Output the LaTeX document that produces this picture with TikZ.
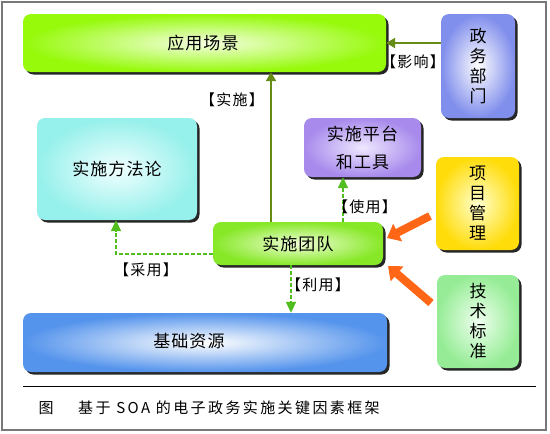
\documentclass[tikz,border=0pt]{standalone}
\usepackage{fontspec}
\newfontfamily\cjk{Noto Sans CJK SC}
\newfontfamily\cjkbox[LetterSpace=6]{Noto Sans CJK SC}
\newfontfamily\cjklbl[LetterSpace=8]{Noto Sans CJK SC}
\newfontfamily\cjkcap[LetterSpace=16]{Noto Sans CJK SC}
\usetikzlibrary{arrows.meta,shadows}
\definecolor{limeG}{RGB}{150,250,10}
\definecolor{limeI}{RGB}{245,255,225}
\definecolor{teamG}{RGB}{135,232,40}
\definecolor{teamI}{RGB}{240,255,215}
\definecolor{govB}{RGB}{128,142,236}
\definecolor{cyanM}{RGB}{150,240,235}
\definecolor{cyanI}{RGB}{240,255,255}
\definecolor{purpP}{RGB}{168,138,236}
\definecolor{purpI}{RGB}{238,232,255}
\definecolor{yelY}{RGB}{255,220,10}
\definecolor{yelI}{RGB}{255,255,205}
\definecolor{grnT}{RGB}{150,236,150}
\definecolor{grnI}{RGB}{238,255,238}
\definecolor{bluB}{RGB}{85,148,236}
\definecolor{oliveA}{RGB}{102,140,22}
\definecolor{dashA}{RGB}{80,190,30}
\definecolor{orangeA}{RGB}{255,102,22}
\definecolor{frameC}{RGB}{120,120,120}
\begin{document}
\begin{tikzpicture}[x=1pt,y=-1pt,
  box/.style={rounded corners=8pt, inner sep=0pt, align=center,
    font=\cjkbox\fontsize{17}{20}\selectfont,
    drop shadow={shadow xshift=2.5pt,shadow yshift=-2.5pt,opacity=1,fill=black!85}},
  lbl/.style={font=\cjklbl\fontsize{15}{16}\selectfont, inner sep=0pt},
  solidarrow/.style={draw=oliveA, line width=2.5pt, -{Triangle[length=9pt,width=10pt]}},
  dasharrow/.style={draw=dashA, line width=2pt, dash pattern=on 4pt off 2pt, -{Triangle[length=11pt,width=10pt]}},
  blockarrow/.style={draw=orangeA, line width=8pt, -{Triangle[length=12pt,width=19pt]}}]
\useasboundingbox (0,0) rectangle (550,434);
\fill[white] (0,0) rectangle (550,434);
\draw[frameC, line width=1.5pt] (2,2) rectangle (546,430);

% boxes
\node[box, inner color=limeI, outer color=limeG, minimum width=363pt, minimum height=58pt] (app) at (204.5,43) {};
\node[font=\cjkbox\fontsize{17}{20}\selectfont] (appT) at (203,43) {应用场景};
\node[box, inner color=white, outer color=govB, minimum width=74pt, minimum height=104pt] (gov) at (478,66) {政\\务\\部\\门};
\node[box, inner color=cyanI, outer color=cyanM, minimum width=160pt, minimum height=102pt] (meth) at (117,169) {实施方法论};
\node[box, inner color=purpI, outer color=purpP, minimum width=117pt, minimum height=59pt, font=\cjkbox\fontsize{17}{28}\selectfont] (plat) at (362.5,147.5) {实施平台\\和工具};
\node[box, inner color=yelI, outer color=yelY, minimum width=83pt, minimum height=93pt] (pm) at (477.5,203.5) {项\\目\\管\\理};
\node[box, inner color=teamI, outer color=teamG, minimum width=170pt, minimum height=43pt] (team) at (298,243.5) {实施团队};
\node[box, inner color=white, outer color=bluB, minimum width=364pt, minimum height=59pt] (base) at (205,342.5) {};
\node[font=\cjkbox\fontsize{17}{20}\selectfont] (baseT) at (189,341) {基础资源};
\node[box, inner color=grnI, outer color=grnT, minimum width=82pt, minimum height=93pt] (tech) at (478,321.5) {技\\术\\标\\准};

% solid olive arrows
\draw[solidarrow] (gov.west |- 0,43) -- (app.east |- 0,43);
\draw[solidarrow] (team.north -| 271,0) -- (app.south -| 271,0);

% dashed arrows
\draw[dasharrow] (team.north -| 343,0) -- (plat.south -| 343,0);
\draw[dasharrow] (team.south -| 291,0) -- (base.north -| 291,0);
\coordinate (bend) at (116,254);
\draw[dasharrow] (team.west |- 0,254) -- (bend) -- (meth.south -| bend);

% orange block arrows
\coordinate (pmTail) at (430,216);
\coordinate (pmTip) at (387,238);
\coordinate (tsTail) at (431,303);
\coordinate (tsTip) at (388,266);
\draw[blockarrow] (pmTail) -- (pmTip);
\draw[blockarrow] (tsTail) -- (tsTip);

% labels
\node[lbl] (lInf) at (413,62) {【影响】};
\node[lbl] (lImp) at (232,100) {【实施】};
\node[lbl] (lUse) at (365,207) {【使用】};
\node[lbl] (lAdopt) at (146,270) {【采用】};
\node[lbl] (lUtil) at (318,285) {【利用】};

% caption
\draw[black, line width=0.8pt] (23,386) coordinate (ruleA) -- (536,386) coordinate (ruleB);
\node[font=\cjk\fontsize{15}{18}\selectfont, inner sep=0pt] (capA) at (46,408) {图};
\node[font=\cjkcap\fontsize{15}{18}\selectfont, inner sep=0pt, anchor=west] (capB) at (78,408) {基于 SOA 的电子政务实施关键因素框架};
\end{tikzpicture}
\end{document}
